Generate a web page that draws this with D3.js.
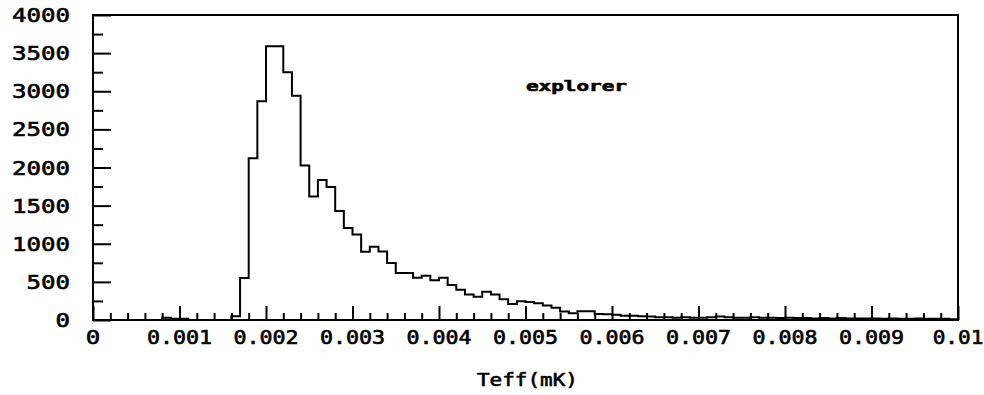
<!DOCTYPE html>
<html>
<head>
<meta charset="utf-8">
<script src="https://cdn.jsdelivr.net/npm/d3@7"></script>
<style>
  html, body { margin: 0; padding: 0; background: #fff; }
  svg { display: block; }
  text { font-family: "DejaVu Sans Mono", monospace; fill: #000; stroke: #000; stroke-width: 0.6px; }
</style>
</head>
<body>
<svg id="chart" width="984" height="395"></svg>
<script>
// Histogram of Teff: 100 bins of width 0.0001 mK from 0 to 0.01
const binLow = 0;
const binHigh = 0.01;
const counts = [
  0, 0, 0, 0, 0, 0, 0, 0, 30, 15,
  15, 0, 0, 0, 0, 0, 50, 550, 2120, 2870,
  3590, 3590, 3250, 2940, 2025, 1620, 1836, 1745, 1430, 1205,
  1120, 896, 962, 900, 748, 615, 615, 555, 580, 520,
  555, 459, 398, 335, 306, 370, 335, 273, 210, 245,
  235, 220, 190, 160, 110, 90, 115, 115, 80, 75,
  70, 55, 55, 50, 45, 35, 35, 30, 35, 30,
  30, 35, 45, 35, 30, 30, 35, 30, 30, 25,
  30, 25, 25, 20, 25, 20, 25, 20, 20, 20,
  20, 15, 20, 15, 15, 20, 15, 15, 15, 10
];
const xTickValues = [0, 0.001, 0.002, 0.003, 0.004, 0.005, 0.006, 0.007, 0.008, 0.009, 0.01];
const xTickLabels = ["0", "0.001", "0.002", "0.003", "0.004", "0.005", "0.006", "0.007", "0.008", "0.009", "0.01"];
const yTickValues = [0, 500, 1000, 1500, 2000, 2500, 3000, 3500, 4000];
const yTickLabels = ["0", "500", "1000", "1500", "2000", "2500", "3000", "3500", "4000"];
const xTitle = "Teff(mK)";
const histTitle = "explorer";

const svg = d3.select("#chart");
const frame = { left: 93, right: 958, top: 15, bottom: 320 };

const x = d3.scaleLinear().domain([binLow, binHigh]).range([frame.left, frame.right]);
const y = d3.scaleLinear().domain([0, 4000]).range([frame.bottom, frame.top]);
const nBins = counts.length;
const binW = (binHigh - binLow) / nBins;

// width of a label drawn in the wide blocky style
function labelWidth(s, digitW) {
  let w = 0;
  for (const c of s) w += (c === "." ? digitW * 0.5 : digitW);
  return w;
}

// step outline of the histogram
const pts = [[binLow, 0]];
counts.forEach((v, i) => {
  pts.push([binLow + i * binW, v]);
  pts.push([binLow + (i + 1) * binW, v]);
});
pts.push([binHigh, 0]);
svg.append("path")
  .attr("d", d3.line().x(d => x(d[0])).y(d => y(d[1]))(pts))
  .attr("fill", "none")
  .attr("stroke", "#000")
  .attr("stroke-width", 2)
  .attr("stroke-linejoin", "miter");

// x axis: ticks pointing up into the frame
const xAxis = d3.axisTop(x)
  .tickValues(d3.range(0, 51).map(i => i * 0.0002))
  .tickSizeInner(0).tickSizeOuter(0).tickFormat("");
const gx = svg.append("g").attr("transform", `translate(0,${frame.bottom})`).call(xAxis);
gx.select(".domain").remove();
gx.selectAll(".tick line")
  .attr("y2", (d, i) => (i % 5 === 0 ? -14 : -7))
  .attr("stroke", "#000").attr("stroke-width", 2);

// y axis: ticks pointing right into the frame
const yAxis = d3.axisRight(y)
  .tickValues(d3.range(0, 17).map(i => i * 250))
  .tickSizeInner(0).tickSizeOuter(0).tickFormat("");
const gy = svg.append("g").attr("transform", `translate(${frame.left},0)`).call(yAxis);
gy.select(".domain").remove();
gy.selectAll(".tick line")
  .attr("x2", (d, i) => (i % 2 === 0 ? 18 : 10))
  .attr("stroke", "#000").attr("stroke-width", 2);

// frame
svg.append("rect")
  .attr("x", frame.left).attr("y", frame.top)
  .attr("width", frame.right - frame.left).attr("height", frame.bottom - frame.top)
  .attr("fill", "none").attr("stroke", "#000").attr("stroke-width", 2);

// y tick labels
svg.append("g").selectAll("text").data(yTickValues).join("text")
  .attr("x", 70)
  .attr("y", d => y(d) + 7)
  .attr("text-anchor", "end")
  .attr("font-size", 19)
  .attr("textLength", (d, i) => labelWidth(yTickLabels[i], 14.5))
  .attr("lengthAdjust", "spacingAndGlyphs")
  .text((d, i) => yTickLabels[i]);

// x tick labels
svg.append("g").selectAll("text").data(xTickValues).join("text")
  .attr("x", d => x(d))
  .attr("y", 344)
  .attr("text-anchor", "middle")
  .attr("font-size", 19)
  .attr("textLength", (d, i) => labelWidth(xTickLabels[i], 14.5))
  .attr("lengthAdjust", "spacingAndGlyphs")
  .text((d, i) => xTickLabels[i]);

// axis title
svg.append("text")
  .attr("x", (frame.left + frame.right) / 2 + 2)
  .attr("y", 386)
  .attr("text-anchor", "middle")
  .attr("font-size", 18)
  .attr("textLength", 101)
  .attr("lengthAdjust", "spacingAndGlyphs")
  .text(xTitle);

// histogram title
svg.append("text")
  .attr("x", 526)
  .attr("y", 91)
  .attr("font-size", 14)
  .attr("font-weight", "bold")
  .attr("textLength", 101)
  .attr("lengthAdjust", "spacingAndGlyphs")
  .text(histTitle);
</script>
</body>
</html>
